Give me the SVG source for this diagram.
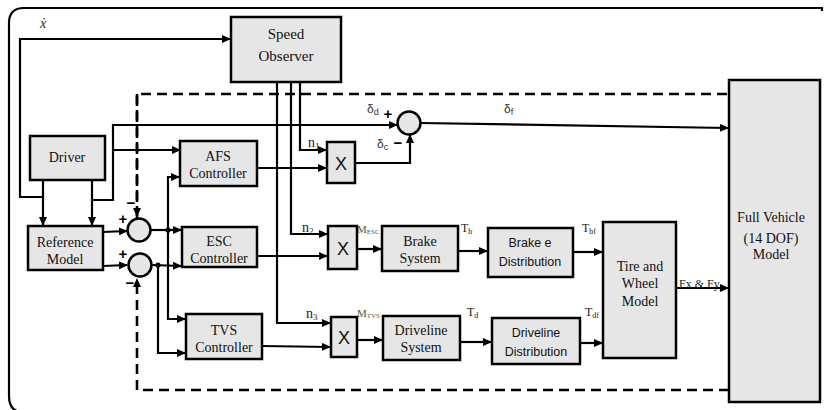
<svg xmlns="http://www.w3.org/2000/svg" width="824" height="410" viewBox="0 0 824 410">
<defs>
<marker id="ah" markerWidth="9" markerHeight="8" refX="8" refY="4" orient="auto" markerUnits="userSpaceOnUse"><path d="M0,0 L9,4 L0,8 Z" fill="#000"/></marker>
<style>
.box{fill:#e6e6e6;stroke:#000;stroke-width:2.5}
.ln{fill:none;stroke:#000;stroke-width:2.2}
.dash{fill:none;stroke:#000;stroke-width:2.6;stroke-dasharray:10 6}
.serif-txt{font-family:"Liberation Serif","Times New Roman",serif;font-size:14px;fill:#111;text-anchor:middle}
.big-txt{font-size:15px}
.sans-txt{font-family:"Liberation Sans",Arial,sans-serif;font-size:12.5px;fill:#111;text-anchor:middle}
.mult-txt{font-family:"Liberation Sans",Arial,sans-serif;font-size:18px;fill:#111;text-anchor:middle}
.sub-lbl{font-family:"Liberation Serif","Times New Roman",serif;font-size:12px;fill:#222}
.n-lbl{font-family:"Liberation Serif","Times New Roman",serif;font-size:14px;fill:#222}
.m-lbl{font-family:"Liberation Serif","Times New Roman",serif;font-size:11px;fill:#555}
.delta-lbl{font-family:"Liberation Sans",Arial,sans-serif;font-size:12px;fill:#333}
.sign{font-family:"Liberation Sans",Arial,sans-serif;font-size:15px;font-weight:bold;fill:#000;text-anchor:middle}
</style>
</defs>
<rect width="824" height="410" fill="#fff"/>
<path class="ln" d="M822,11 L822,8 L24,8 Q9,8 9,23 L9,396 Q9,410 20,412"/>

<g id="connectors">
<path class="dash" d="M137,218 L137,94 L729,94"/>
<path class="dash" d="M137,94 L137,216" marker-end="url(#ah)"/>
<path class="dash" d="M729,390 L137,390 L137,279" marker-end="url(#ah)"/>
<path class="ln" d="M43,197 L20,197 L20,39 L230,39" marker-end="url(#ah)"/>
<path class="ln" d="M43,180 L43,225" marker-end="url(#ah)"/>
<path class="ln" d="M92,180 L92,225" marker-end="url(#ah)"/>
<path class="ln" d="M92,200 L113,200 L113,125 L397,125" marker-end="url(#ah)"/>
<path class="ln" d="M113,150 L180,150" marker-end="url(#ah)"/>
<path class="ln" d="M420,123 L728,128" marker-end="url(#ah)"/>
<path class="ln" d="M355,163 L410,163 L410,135" marker-end="url(#ah)"/>
<path class="ln" d="M300,82 L300,150 L326,150" marker-end="url(#ah)"/>
<path class="ln" d="M291,82 L291,234 L327,234" marker-end="url(#ah)"/>
<path class="ln" d="M277,82 L277,323 L330,323" marker-end="url(#ah)"/>
<path class="ln" d="M257,168 L326,168" marker-end="url(#ah)"/>
<path class="ln" d="M257,256 L327,256" marker-end="url(#ah)"/>
<path class="ln" d="M262,346 L330,347" marker-end="url(#ah)"/>
<path class="ln" d="M357,249 L381,249" marker-end="url(#ah)"/>
<path class="ln" d="M458,251 L487,251" marker-end="url(#ah)"/>
<path class="ln" d="M573,252 L602,252" marker-end="url(#ah)"/>
<path class="ln" d="M357,340 L382,340" marker-end="url(#ah)"/>
<path class="ln" d="M460,342 L491,342" marker-end="url(#ah)"/>
<path class="ln" d="M580,343 L602,343" marker-end="url(#ah)"/>
<path class="ln" d="M676,288 L728,288" marker-end="url(#ah)"/>
<path class="ln" d="M103,232 L127,231" marker-end="url(#ah)"/>
<path class="ln" d="M103,266 L127,265" marker-end="url(#ah)"/>
<path class="ln" d="M151,230 L181,230" marker-end="url(#ah)"/>
<path class="ln" d="M168,230 L168,177 L179,177" marker-end="url(#ah)"/>
<path class="ln" d="M168,230 L168,319 L185,319" marker-end="url(#ah)"/>
<path class="ln" d="M152,265 L181,266" marker-end="url(#ah)"/>
<path class="ln" d="M158,265 L158,353 L185,353" marker-end="url(#ah)"/>
<circle cx="168" cy="230" r="2.6" fill="#000"/>
<circle cx="158" cy="265" r="2.6" fill="#000"/>
</g>

<g id="speed-observer"><rect class="box" x="231" y="17" width="110" height="65"/><text class="serif-txt big-txt" x="286" y="39">Speed</text><text class="serif-txt big-txt" x="286" y="61">Observer</text></g>
<g id="driver"><rect class="box" x="30" y="136" width="75" height="44"/><text class="serif-txt" x="67" y="162">Driver</text></g>
<g id="reference-model"><rect class="box" x="28" y="226" width="75" height="44"/><text class="serif-txt" x="65" y="247">Reference</text><text class="serif-txt" x="65" y="264">Model</text></g>
<g id="afs-controller"><rect class="box" x="180" y="141" width="77" height="45"/><text class="serif-txt" x="218" y="161">AFS</text><text class="serif-txt" x="218" y="178">Controller</text></g>
<g id="esc-controller"><rect class="box" x="182" y="227" width="75" height="40"/><text class="serif-txt" x="219" y="246">ESC</text><text class="serif-txt" x="219" y="263">Controller</text></g>
<g id="tvs-controller"><rect class="box" x="186" y="314" width="76" height="45"/><text class="serif-txt" x="224" y="335">TVS</text><text class="serif-txt" x="224" y="352">Controller</text></g>
<g id="sum-upper"><circle class="box" cx="139" cy="230" r="11.5"/></g>
<g id="sum-lower"><circle class="box" cx="140" cy="265" r="11.5"/></g>
<g id="sum-steer"><circle class="box" cx="409" cy="123" r="11.5"/></g>
<g id="mult-1"><rect class="box" x="327" y="142" width="28" height="41"/><text class="mult-txt" x="341" y="170">X</text></g>
<g id="mult-2"><rect class="box" x="328" y="226" width="29" height="43"/><text class="mult-txt" x="343" y="255">X</text></g>
<g id="mult-3"><rect class="box" x="331" y="317" width="26" height="40"/><text class="mult-txt" x="344" y="344">X</text></g>
<g id="brake-system"><rect class="box" x="382" y="226" width="76" height="45"/><text class="serif-txt" x="420" y="246">Brake</text><text class="serif-txt" x="420" y="263">System</text></g>
<g id="brake-distribution"><rect class="box" x="488" y="228" width="85" height="49"/><text class="sans-txt" x="530" y="247">Brake e</text><text class="sans-txt" x="530" y="266">Distribution</text></g>
<g id="driveline-system"><rect class="box" x="383" y="316" width="77" height="44"/><text class="serif-txt" x="421" y="335">Driveline</text><text class="serif-txt" x="421" y="352">System</text></g>
<g id="driveline-distribution"><rect class="box" x="492" y="318" width="88" height="46"/><text class="sans-txt" x="536" y="337">Driveline</text><text class="sans-txt" x="536" y="356">Distribution</text></g>
<g id="tire-wheel"><rect class="box" x="603" y="222" width="73" height="136"/><text class="serif-txt" x="640" y="271">Tire and</text><text class="serif-txt" x="640" y="288">Wheel</text><text class="serif-txt" x="640" y="306">Model</text></g>
<g id="full-vehicle"><rect class="box" x="729" y="80" width="91" height="322"/><text class="serif-txt" x="771" y="222">Full Vehicle</text><text class="serif-txt" x="771" y="243">(14 DOF)</text><text class="serif-txt" x="771" y="259">Model</text></g>

<g id="labels">
<text class="n-lbl" x="40" y="28" font-style="italic">ẋ</text>
<text class="delta-lbl" x="367" y="113">δ<tspan font-size="9" dy="2">d</tspan></text>
<text class="delta-lbl" x="377" y="148">δ<tspan font-size="9" dy="2">c</tspan></text>
<text class="delta-lbl" x="504" y="113">δ<tspan font-size="9" dy="2">f</tspan></text>
<text class="sign" x="388" y="119">+</text>
<text class="sign" x="398" y="148">−</text>
<text class="sign" x="123" y="224">+</text>
<text class="sign" x="131" y="208">−</text>
<text class="sign" x="123" y="259">+</text>
<text class="sign" x="130" y="288">−</text>
<text class="n-lbl" x="308" y="147">n<tspan font-size="9" dy="2">1</tspan></text>
<text class="n-lbl" x="302" y="232">n<tspan font-size="9" dy="2">2</tspan></text>
<text class="n-lbl" x="306" y="318">n<tspan font-size="9" dy="2">3</tspan></text>
<text class="m-lbl" x="357" y="233">M<tspan font-size="7" dy="1">ESC</tspan></text>
<text class="m-lbl" x="357" y="317">M<tspan font-size="7" dy="1">TVS</tspan></text>
<text class="sub-lbl" x="461" y="232">T<tspan font-size="8" dy="2">b</tspan></text>
<text class="sub-lbl" x="582" y="232">T<tspan font-size="8" dy="2">bf</tspan></text>
<text class="sub-lbl" x="467" y="316">T<tspan font-size="8" dy="2">d</tspan></text>
<text class="sub-lbl" x="585" y="316">T<tspan font-size="8" dy="2">df</tspan></text>
<text class="sub-lbl" x="679" y="288" font-size="11">Fx &amp; Fy</text>
</g>
</svg>
